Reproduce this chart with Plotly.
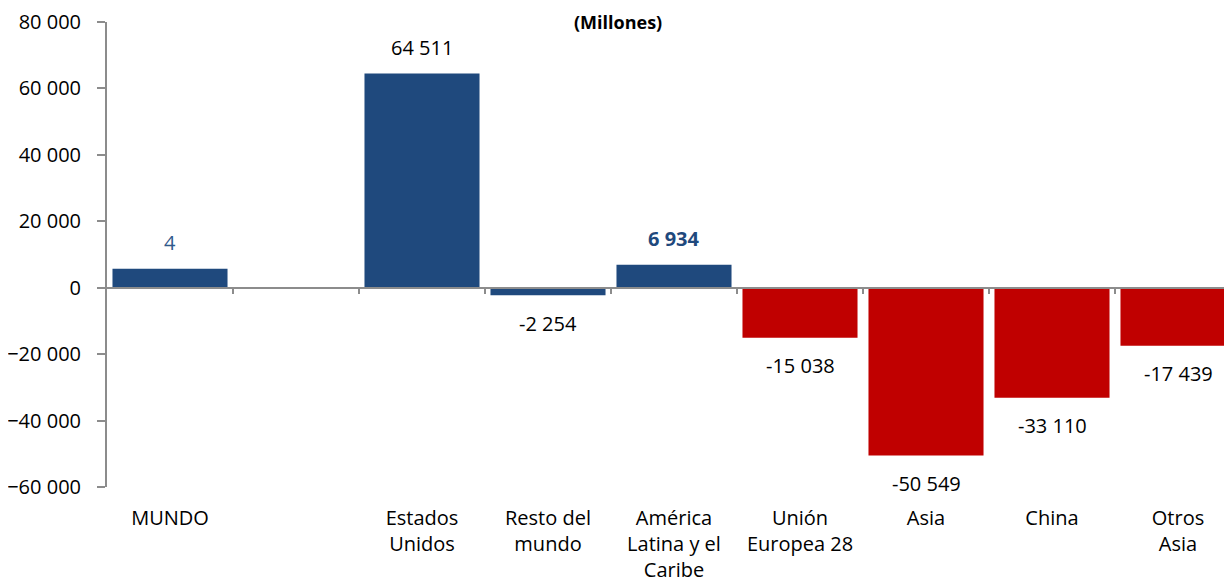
import plotly.graph_objects as go

categories = ["MUNDO", " ", "Estados<br>Unidos", "Resto del<br>mundo",
              "América<br>Latina y el<br>Caribe", "Unión<br>Europea 28",
              "Asia", "China", "Otros<br>Asia"]
values = [5700, None, 64511, -2254, 6934, -15038, -50549, -33110, -17439]
value_labels = ["4", "", "64 511", "-2 254", "6 934", "-15 038", "-50 549", "-33 110", "-17 439"]
y_ticks = [-60000, -40000, -20000, 0, 20000, 40000, 60000, 80000]
title_text = "<b>(Millones)</b>"

BLUE = "#1F497D"
RED = "#C00000"
GREY = "#8C8C8C"
FONT = "Open Sans"

bar_colors = [BLUE if (v is not None and v >= 0) or c.startswith("Resto") else RED
              for c, v in zip(categories, values)]
label_colors = []
label_bold = []
for c, v in zip(categories, values):
    if c == "MUNDO":
        label_colors.append("#2F5A8C"); label_bold.append(False)
    elif c.startswith("América"):
        label_colors.append(BLUE); label_bold.append(True)
    else:
        label_colors.append("#000000"); label_bold.append(False)

W, H = 1224, 578
ML, MT, MB = 99, 14, 99
n = len(categories)
plot_w = W - ML
x_range = [-0.5, -0.5 + plot_w / 126.0]
boundaries = [i + 0.5 for i in range(n - 1)]
plot_h = H - MT - MB

fig = go.Figure()
fig.add_trace(go.Bar(x=categories, y=values, marker=dict(color=bar_colors, line=dict(width=0)),
                     hoverinfo="skip", showlegend=False))
fig.add_trace(go.Scatter(x=boundaries, y=[0] * len(boundaries), mode="markers",
                         marker=dict(opacity=0), xaxis="x2", yaxis="y",
                         hoverinfo="skip", showlegend=False))

for c, v, t, col, b in zip(categories, values, value_labels, label_colors, label_bold):
    if v is None:
        continue
    fig.add_annotation(x=c, y=v, xref="x", yref="y", text=f"<b>{t}</b>" if b else t,
                       showarrow=False, yanchor="middle",
                       yshift=26 if v >= 0 else -28,
                       font=dict(family=FONT, size=20, color=col))

fig.add_annotation(x=(610 - ML) / plot_w, y=1 + (MT - 1) / plot_h, xref="paper", yref="paper",
                   text=title_text, showarrow=False, yanchor="top", xanchor="center",
                   borderpad=0,
                   font=dict(family=FONT, size=18, color="#000000"))

zero_pos = (0 - y_ticks[0]) / (y_ticks[-1] - y_ticks[0])

fig.update_layout(
    width=W, height=H,
    margin=dict(l=ML, r=0, t=MT, b=MB, pad=0),
    paper_bgcolor="white", plot_bgcolor="white",
    separators=", ",
    bargap=0.087,
    font=dict(family=FONT, size=20, color="#000000"),
    xaxis=dict(type="category", categoryorder="array", categoryarray=categories,
               range=x_range, showline=False, ticks="", showgrid=False, zeroline=False,
               tickfont=dict(family=FONT, size=20, color="#000000"),
               ticklabelstandoff=17),
    xaxis2=dict(overlaying="x", anchor="free", position=zero_pos, side="bottom",
                range=x_range, showline=True, linecolor=GREY, linewidth=2,
                tickmode="array", tickvals=boundaries, ticks="outside", ticklen=5,
                tickcolor=GREY, tickwidth=2, showticklabels=False, showgrid=False,
                zeroline=False),
    yaxis=dict(range=[y_ticks[0], y_ticks[-1]], tickmode="array", tickvals=y_ticks,
               tickformat=",d", showline=True, linecolor=GREY, linewidth=2,
               ticks="outside", ticklen=8, tickcolor=GREY, tickwidth=2,
               showgrid=False, zeroline=False,
               tickfont=dict(family=FONT, size=20, color="#000000"),
               ticklabelstandoff=12),
)

fig.write_html("out.html")
